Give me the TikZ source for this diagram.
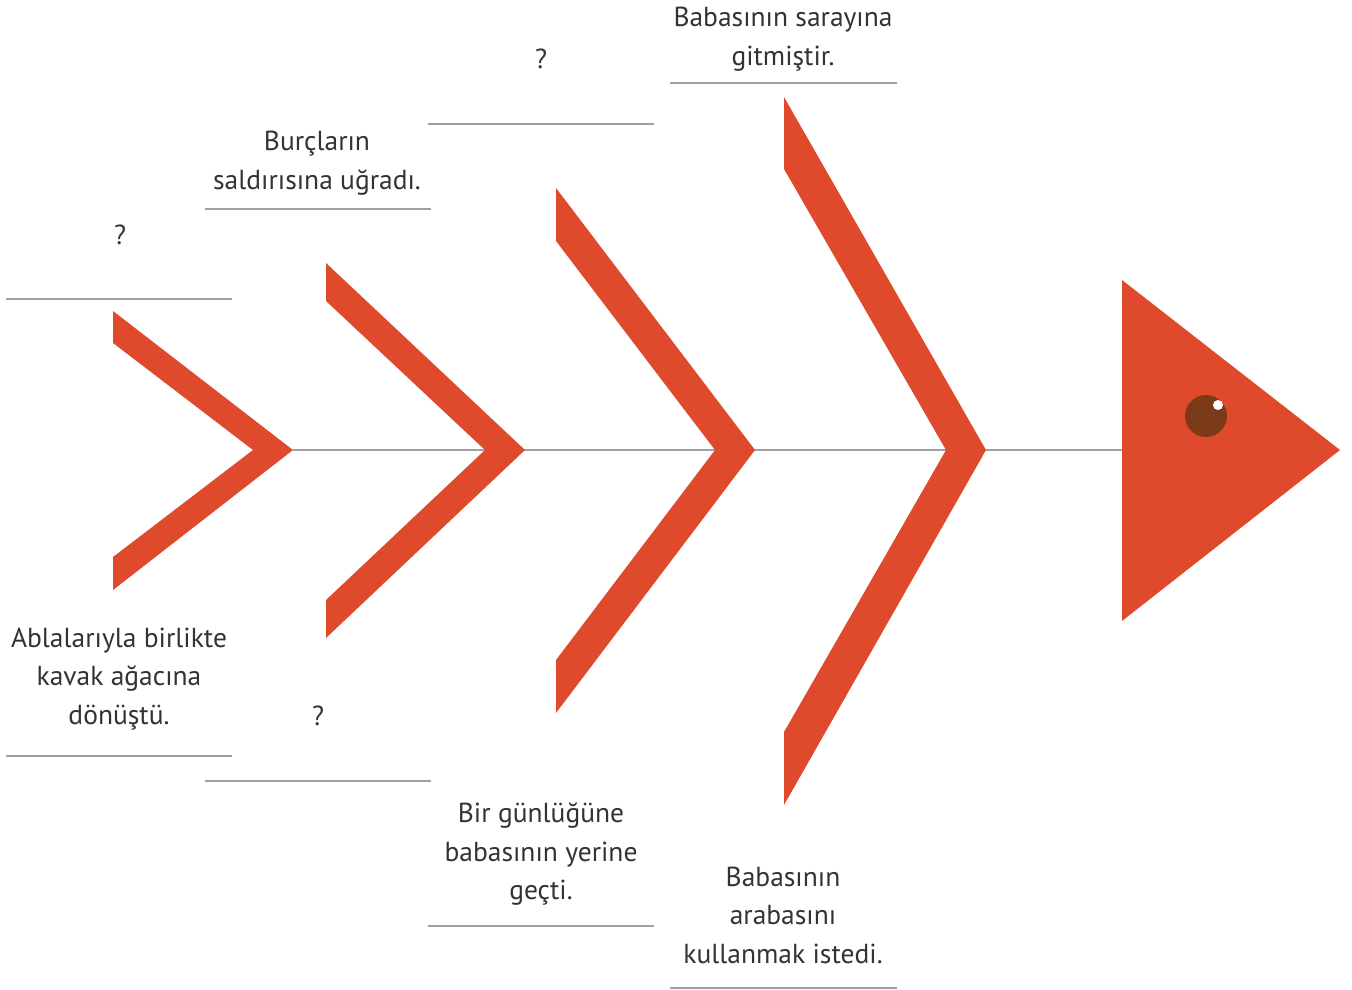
\documentclass[tikz,border=0pt]{standalone}
\usepackage{fontspec}
\setmainfont{PT Sans}
\usepackage{tikz}
\usetikzlibrary{positioning}
\definecolor{fishred}{HTML}{E04A2C}
\definecolor{eyebrown}{HTML}{7B3A18}
\definecolor{spinegray}{HTML}{A0A0A0}
\definecolor{labeltext}{HTML}{333333}

\begin{document}
\begin{tikzpicture}[x=1pt,y=-1pt,
    bone/.style={fill=fishred},
    rule/.style={draw=spinegray,line width=1.3pt},
    cause/.style={align=center,inner sep=0pt,text=labeltext,
                  font=\fontsize{27.5}{38.5}\selectfont}]
  \useasboundingbox (0,0) rectangle (1352,989);
  % head and eye
  \fill[bone] (1122,280) -- (1340,450) -- (1122,621) -- cycle;
  \coordinate (head) at (1122,450);
  \fill[eyebrown] (1206,416) circle (21);
  \fill[white] (1218,405) circle (5);
  % spine
  \coordinate (tipA) at (293,450);
  \coordinate (tipB) at (525,450);
  \coordinate (tipC) at (755,450);
  \coordinate (tipD) at (986,450);
  \draw[rule] (tipA) -- (head);
  % bones
  \fill[bone] (113,311) -- (tipA) -- (113,590) -- (113,557) -- (253,450) -- (113,343) -- cycle;
  \fill[bone] (326,263) -- (tipB) -- (326,638) -- (326,600) -- (485,450) -- (326,301) -- cycle;
  \fill[bone] (556,188) -- (tipC) -- (556,713) -- (556,660) -- (715,450) -- (556,241) -- cycle;
  \fill[bone] (784,97) -- (tipD) -- (784,805) -- (784,732) -- (946,450) -- (784,169) -- cycle;
  % upper causes
  \node[cause] (upA) at (120,235) {?};
  \draw[rule] (6,299) -- (232,299);
  \node[cause] (upB) at (317,163) {Burçların\\saldırısına uğradı.};
  \draw[rule] (205,209) -- (431,209);
  \node[cause] (upC) at (541,59) {?};
  \draw[rule] (428,124) -- (654,124);
  \node[cause] (upD) at (783,39) {Babasının sarayına\\gitmiştir.};
  \draw[rule] (670,83) -- (897,83);
  % lower causes
  \node[cause] (loA) at (119,679) {Ablalarıyla birlikte\\kavak ağacına\\dönüştü.};
  \draw[rule] (6,756) -- (232,756);
  \node[cause] (loB) at (318,716) {?};
  \draw[rule] (205,781) -- (431,781);
  \node[cause] (loC) at (541,854) {Bir günlüğüne\\babasının yerine\\geçti.};
  \draw[rule] (428,926) -- (654,926);
  \node[cause] (loD) at (783,915) {Babasının\\arabasını\\kullanmak istedi.};
  \draw[rule] (670,988) -- (897,988);
\end{tikzpicture}
\end{document}
